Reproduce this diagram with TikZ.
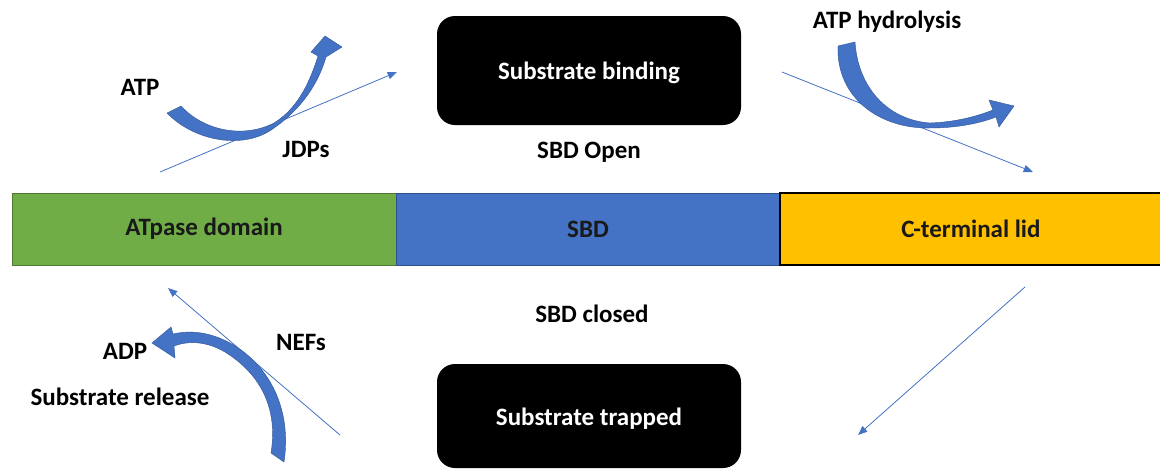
\documentclass[tikz,border=0pt]{standalone}
\usepackage{fontspec}
\setmainfont{Carlito}
\usetikzlibrary{arrows.meta}
\definecolor{agreen}{HTML}{70AD47}
\definecolor{ablue}{HTML}{4472C4}
\definecolor{ayellow}{HTML}{FFC000}
\definecolor{darkblue}{HTML}{2F5597}
\begin{document}
\begin{tikzpicture}[x=0.75pt,y=-0.75pt,
  font=\fontsize{18.75}{22}\selectfont\bfseries,
  seg/.style={rectangle, inner sep=0pt, minimum height=54pt, text=black!90},
  blackbox/.style={rectangle, fill=black, rounded corners=13.5pt, minimum width=228pt, text=white, inner sep=0pt, text height=14pt, text depth=0.5pt},
  lbl/.style={anchor=base, text=black, inner sep=0pt},
  thinarrow/.style={draw=ablue, line width=0.6pt, -{Triangle[length=7pt,width=5.5pt]}},
  bigarrow/.style={fill=ablue, draw=darkblue, line width=0.3pt}]
\useasboundingbox (0,0) rectangle (1160,468);
\fill[white] (0,0) rectangle (1160,468);

% domain bar
\node[seg, fill=agreen, draw=agreen!70!black, line width=0.6pt, minimum width=288pt] (atpase) at (204,229) {ATpase domain};
\node[seg, fill=ablue, draw=ablue!70!black, line width=0.6pt, minimum width=288pt] (sbd) at (588,229) {SBD};
\node[seg, fill=ayellow, draw=black, line width=1.5pt, minimum width=288pt] (lid) at (972,229) {};
\node[lbl, text=black!90] (lidtxt) at (971,237) {C-terminal lid};

% black boxes
\node[blackbox, minimum height=81.75pt] (bind) at (589,70.5) {Substrate binding};
\node[blackbox, minimum height=78pt] (trap) at (589,416) {Substrate trapped};

% labels
\node[lbl] (open) at (589,158) {SBD Open};
\node[lbl] (closed) at (592,322) {SBD closed};
\node[lbl] (atp) at (140,95) {ATP};
\node[lbl] (jdp) at (306,157) {JDPs};
\node[lbl] (hyd) at (887,28) {ATP hydrolysis};
\node[lbl] (nef) at (301,350) {NEFs};
\node[lbl] (adp) at (125,359) {ADP};
\node[lbl] (rel) at (120,405) {Substrate release};

% thin arrows
\coordinate (l1s) at (160,172); \coordinate (l1e) at (397,72);
\coordinate (l2s) at (782,72);  \coordinate (l2e) at (1033,172);
\coordinate (l3s) at (1025,287); \coordinate (l3e) at (858,435);
\coordinate (l4s) at (340,435); \coordinate (l4e) at (168,288);
\draw[thinarrow] (l1s) -- (l1e);
\draw[thinarrow] (l2s) -- (l2e);
\draw[thinarrow] (l3s) -- (l3e);
\draw[thinarrow] (l4s) -- (l4e);

% curved block arrow: ATP / JDPs
\path[bigarrow] (167,113) .. controls (195,142) and (245,150) .. (274,128)
  .. controls (300,110) and (318,85) .. (326,57) -- (342,47) -- (325,36) -- (311,52) -- (318,56)
  .. controls (308,88) and (295,110) .. (274,123)
  .. controls (245,138) and (205,132) .. (181,106) -- cycle;

% curved block arrow: ATP hydrolysis
\path[bigarrow] (838,46) .. controls (836,98) and (880,129) .. (930,128)
  .. controls (955,128) and (978,124) .. (996,117) -- (999,127) -- (1014,106) -- (989,100) -- (993,110)
  .. controls (975,117) and (955,122) .. (930,123)
  .. controls (888,120) and (858,88) .. (855,42) -- cycle;

% curved block arrow: NEFs / ADP
\path[bigarrow] (284,462) .. controls (292,410) and (270,365) .. (230,343)
  .. controls (210,332) and (190,330) .. (173,334) -- (171,327) -- (152,343) -- (175,358) -- (174,346)
  .. controls (190,340) and (208,342) .. (225,352)
  .. controls (262,375) and (278,410) .. (271,453) -- cycle;
\end{tikzpicture}
\end{document}
